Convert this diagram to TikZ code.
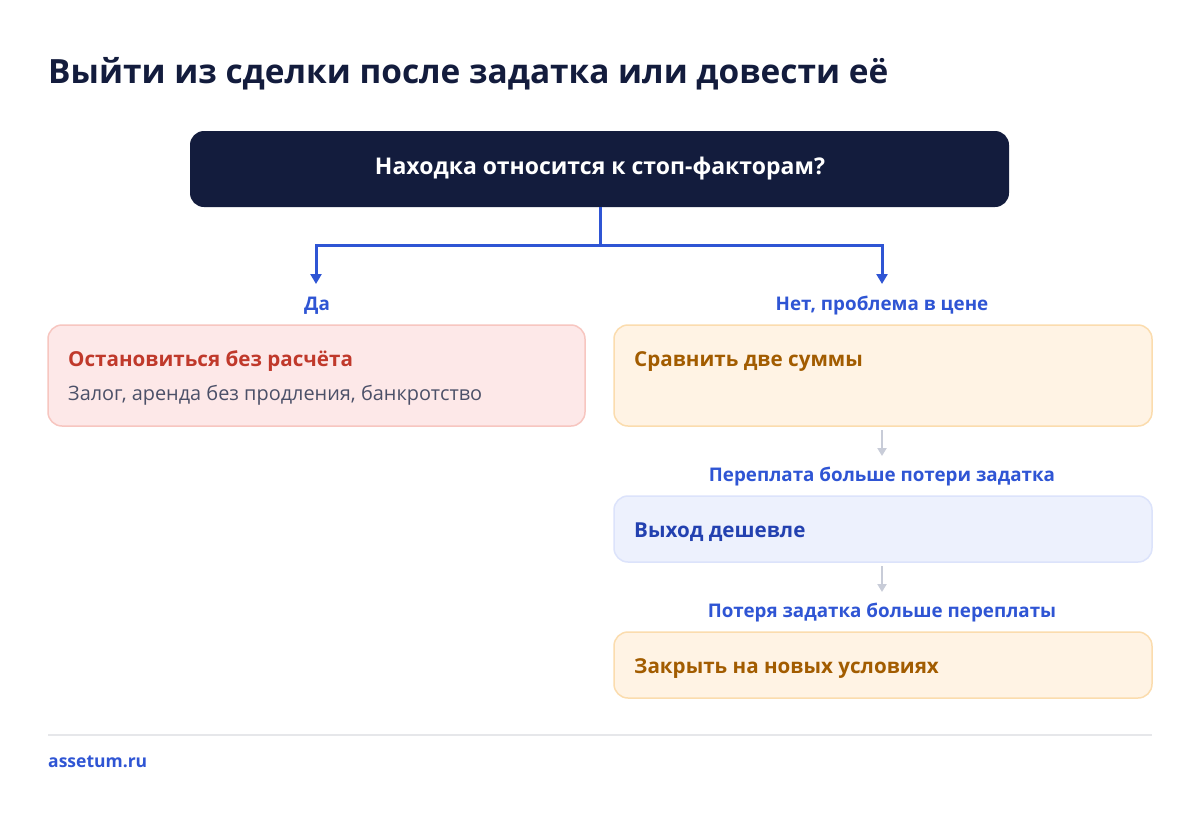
\documentclass[tikz,border=0pt]{standalone}
\usepackage{fontspec}
\setmainfont{Open Sans}[BoldFont={Open Sans Bold}]
\usetikzlibrary{arrows.meta,calc}
\definecolor{navy}{HTML}{131C3D}
\definecolor{cblue}{HTML}{2F55D4}
\definecolor{cred}{HTML}{C0392B}
\definecolor{cgray}{HTML}{4B5068}
\definecolor{corange}{HTML}{A25C00}
\definecolor{pinkfill}{HTML}{FDE8E8}
\definecolor{pinkline}{HTML}{F7C6C0}
\definecolor{orfill}{HTML}{FFF3E4}
\definecolor{orline}{HTML}{FBDCAE}
\definecolor{blfill}{HTML}{EDF1FD}
\definecolor{blline}{HTML}{DCE3FB}
\definecolor{bldark}{HTML}{2341B0}
\definecolor{arrgray}{HTML}{C8CCD8}
\definecolor{rulegray}{HTML}{E6E7EA}
\tikzset{
  card/.style={rounded corners=14pt, line width=1.5pt},
  lbl/.style={text=cblue, font=\fontsize{18.8}{22}\selectfont\bfseries, anchor=base, inner sep=0pt},
  ctitle/.style={font=\fontsize{20.6}{24}\selectfont\bfseries, anchor=base west, inner sep=0pt},
  mainarrow/.style={draw=cblue, line width=3pt, -{Triangle[width=11pt,length=10pt]}},
  grayarrow/.style={draw=arrgray, line width=2pt, -{Triangle[width=9pt,length=8pt]}},
}
\begin{document}
\begin{tikzpicture}[x=1pt,y=-1pt]
\useasboundingbox[fill=white] (0,0) rectangle (1200,812);
% title
\node[anchor=base west, inner sep=0pt, text=navy, font=\fontsize{33.4}{40}\selectfont\bfseries] (title) at (48,83) {Выйти из сделки после задатка или довести её};
% question box
\path[fill=navy, rounded corners=14pt] (190,131) rectangle (1009,207);
\coordinate (qs) at (600,207);
\node[text=white, font=\fontsize{23}{27}\selectfont\bfseries, inner sep=0pt] (q) at (600,169) {Находка относится к стоп-факторам?};
% labels
\node[lbl] (yes) at (317,310) {Да};
\node[lbl] (no) at (882,310) {Нет, проблема в цене};
\coordinate (yesend) at (316,284);
\coordinate (noend) at (882,284);
\draw[mainarrow] (qs) -- (600,245) -| (yesend);
\draw[mainarrow] (600,245) -| (noend);
% left card
\draw[card, fill=pinkfill, draw=pinkline] (48,325) rectangle (585,426);
\node[ctitle, text=cred] (stop) at (68,366) {Остановиться без расчёта};
\node[anchor=base west, inner sep=0pt, text=cgray, font=\fontsize{19.9}{23}\selectfont] (stopd) at (68,400) {Залог, аренда без продления, банкротство};
% right cards
\draw[card, fill=orfill, draw=orline] (614,325) rectangle (1152,426);
\node[ctitle, text=corange] (cmp) at (634,366) {Сравнить две суммы};
\coordinate (c1b) at (882,430);
\coordinate (c1e) at (882,456);
\draw[grayarrow] (c1b) -- (c1e);
\node[lbl] (over) at (882,481) {Переплата больше потери задатка};
\draw[card, fill=blfill, draw=blline] (614,496) rectangle (1152,562);
\node[ctitle, text=bldark] (exit) at (634,537) {Выход дешевле};
\coordinate (c2b) at (882,566);
\coordinate (c2e) at (882,592);
\draw[grayarrow] (c2b) -- (c2e);
\node[lbl] (loss) at (882,617) {Потеря задатка больше переплаты};
\draw[card, fill=orfill, draw=orline] (614,632) rectangle (1152,698);
\node[ctitle, text=corange] (close) at (634,673) {Закрыть на новых условиях};
% footer
\coordinate (r1) at (48,735);
\coordinate (r2) at (1152,735);
\draw[rulegray, line width=2pt] (r1) -- (r2);
\node[anchor=base west, inner sep=0pt, text=cblue, font=\fontsize{17.5}{20}\selectfont\bfseries] (site) at (48,767) {assetum.ru};
\end{tikzpicture}
\end{document}
